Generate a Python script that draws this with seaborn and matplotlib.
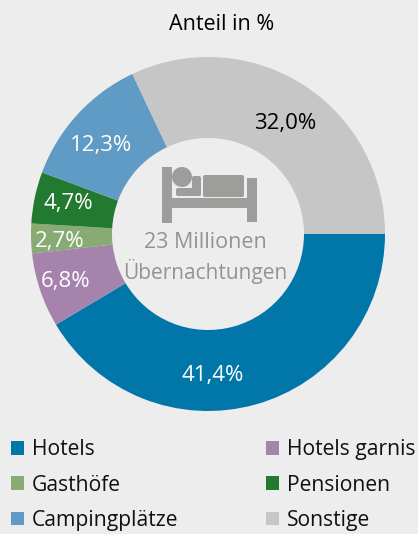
import matplotlib
matplotlib.use("Agg")
import matplotlib.pyplot as plt
from matplotlib.patches import Rectangle, Circle, FancyBboxPatch
import seaborn as sns

# data
categories = ['Hotels', 'Hotels garnis', 'Gasthöfe', 'Pensionen', 'Campingplätze', 'Sonstige']
anteil = [41.4, 6.8, 2.7, 4.7, 12.3, 32.0]
farben = ['#0076a9', '#a583ad', '#87ab72', '#217a30', '#5f9bc4', '#c6c6c6']
text_farben = ['white', 'white', 'white', 'white', 'white', 'black']
label_x = [213, 66, 60, 68, 101, 285]
label_y = [375, 282, 241, 204, 145, 123]

BG = '#ededed'
GRAU = '#9d9d9b'
H = 534

sns.set_theme(style='white', rc={'figure.facecolor': BG, 'axes.facecolor': BG})
plt.rcParams['font.family'] = ['Open Sans', 'DejaVu Sans']

fig = plt.figure(figsize=(4.18, 5.34), dpi=100)
ax = fig.add_axes([0, 0, 1, 1])

# donut, starts east and runs clockwise
wedges, _ = ax.pie(anteil, colors=sns.color_palette(farben), startangle=0, counterclock=False,
                   center=(208, H - 234), radius=177, frame=True,
                   wedgeprops=dict(width=81, linewidth=0))
ax.set_xlim(0, 418)
ax.set_ylim(0, H)
ax.set_aspect('equal')
ax.axis('off')

ax.text(222, H - 24, 'Anteil in %', ha='center', va='center', fontsize=15.5, color='black')

for v, x, y, c in zip(anteil, label_x, label_y, text_farben):
    ax.text(x, H - y, f'{v:.1f}%'.replace('.', ','), ha='center', va='center', fontsize=16, color=c)

# bed icon
ax.add_patch(Rectangle((162, H - 223), 10, 56, color=GRAU, lw=0))
ax.add_patch(Rectangle((247, H - 222), 10, 44, color=GRAU, lw=0))
ax.add_patch(Rectangle((172, H - 208), 75, 10, color=GRAU, lw=0))
ax.add_patch(Circle((182, H - 177), 10, color=GRAU, lw=0))
ax.add_patch(FancyBboxPatch((205, H - 195), 37, 18, boxstyle='round,pad=2', color=GRAU, lw=0))
ax.add_patch(FancyBboxPatch((178, H - 194), 21, 4, boxstyle='round,pad=2', color=GRAU, lw=0))
ax.add_patch(FancyBboxPatch((194, H - 194), 5, 16, boxstyle='round,pad=2', color=GRAU, lw=0))

ax.text(205, H - 243, '23 Millionen', ha='center', va='center', fontsize=15.5, color='#939391')
ax.text(205, H - 271, 'Übernachtungen', ha='center', va='center', fontsize=15, color='#939391')

# legend, filled column by column
order = [0, 2, 4, 1, 3, 5]
ax.legend([wedges[i] for i in order], [categories[i] for i in order], ncol=2,
          loc='lower left', bbox_to_anchor=(11 / 418, 3 / H), frameon=False,
          fontsize=15.2, borderaxespad=0, borderpad=0,
          handlelength=0.62, handleheight=0.62, handletextpad=0.38,
          columnspacing=4.15, labelspacing=0.68, labelcolor='#111111')

fig.savefig('out.png', dpi=100, facecolor=BG)
